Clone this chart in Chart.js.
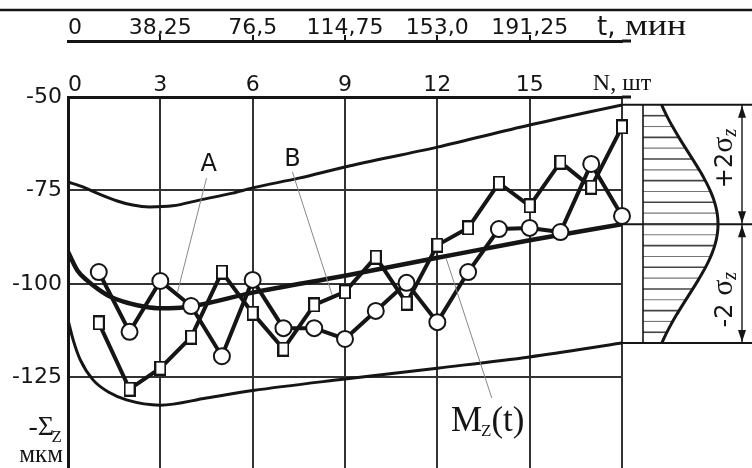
<!DOCTYPE html>
<html><head><meta charset="utf-8">
<script src="https://cdn.jsdelivr.net/npm/chart.js@4/dist/chart.umd.min.js"></script>
<style>html,body{margin:0;padding:0;background:#fff;overflow:hidden}canvas{display:block}</style>
</head><body><canvas id="c" width="752" height="468"></canvas>
<script>
// ---- data ----
const partNumbers = [1,2,3,4,5,6,7,8,9,10,11,12,13,14,15,16,17,18];
const circleValues = [-96.8,-112.8,-99.2,-105.9,-119.3,-98.9,-111.8,-111.8,-114.7,-107.2,-99.7,-110.2,-96.8,-85.3,-85.0,-86.1,-67.9,-81.8];
const squareValues = [-110.4,-128.1,-122.5,-114.2,-96.8,-107.8,-117.4,-105.6,-102.1,-92.8,-105.1,-89.6,-85.0,-73.0,-79.1,-67.4,-74.1,-58.0];
const upperN = [0,0.5,1,1.6,2.1,2.65,3.4,4.3,5.35,6,7.5,9,12,15,18];
const upperValues = [-72.7,-74.1,-75.9,-77.8,-78.9,-79.4,-79.1,-77.5,-75.7,-74.3,-71.7,-68.7,-63.4,-57.5,-52.1];
const meanN = [0,0.3,0.6,1,1.4,2,2.5,3,3.5,4,6,9,12,15,18];
const meanValues = [-91.4,-96.3,-98.9,-101.5,-103.5,-105.2,-106.1,-106.5,-106.4,-106.0,-102.3,-97.8,-93.0,-88.3,-84.0];
const lowerN = [0,0.17,0.4,0.82,1.36,1.9,3,4.5,6,9,12,15,18];
const lowerValues = [-109.6,-115.0,-120.3,-125.7,-129.1,-131.0,-132.4,-130.5,-128.5,-125.4,-122.5,-119.5,-115.8];
const nTicks = [0,3,6,9,12,15,18];
const nTickLabels = ['  0','3','6','9','12','15','N, шт'];
const tTicks = [0,3,6,9,12,15];
const tTickLabels = ['  0','38,25','76,5','114,75','153,0','191,25'];
const yTicks = [-125,-100,-75,-50];

const INK = '#151515';
const GRID = '#333';
const SANS = 'DejaVu Sans';
const SERIF = 'Liberation Serif';

const squareImg = (() => {
  const c = document.createElement('canvas'); c.width = 12; c.height = 15;
  const g = c.getContext('2d');
  g.fillStyle = '#fff'; g.fillRect(1,1,10,13);
  g.strokeStyle = INK; g.lineWidth = 2; g.strokeRect(1,1,10,13);
  return c;
})();

const pts = (xs, ys) => xs.map((x, i) => ({x, y: ys[i]}));

const deco = {
  id: 'deco',
  afterDraw(chart) {
    const ctx = chart.ctx, xs = chart.scales.x, ys = chart.scales.y, x2 = chart.scales.x2;
    const ca = chart.chartArea;
    const px = v => xs.getPixelForValue(v), py = v => ys.getPixelForValue(v);
    ctx.save();
    ctx.strokeStyle = INK; ctx.fillStyle = INK;
    // page frame line at top
    ctx.lineWidth = 2.5;
    ctx.beginPath(); ctx.moveTo(0, 10); ctx.lineTo(chart.width, 10); ctx.stroke();
    // extend the two top axis lines a little past the plot
    ctx.lineWidth = 3;
    ctx.beginPath(); ctx.moveTo(ca.right, x2.bottom); ctx.lineTo(ca.right + 9, x2.bottom); ctx.stroke();
    ctx.beginPath(); ctx.moveTo(ca.right, ca.top); ctx.lineTo(ca.right + 9, ca.top); ctx.stroke();
    // "t, мин"
    ctx.textBaseline = 'alphabetic'; ctx.textAlign = 'left';
    const tBase = x2.bottom - 6;
    ctx.font = '26px ' + SANS;
    ctx.fillText('t,', px(18) - 25, tBase);
    ctx.font = '30px ' + SERIF;
    ctx.save(); ctx.translate(px(18) + 3, tBase); ctx.scale(1.2, 1); ctx.fillText('мин', 0, 0); ctx.restore();
    // -Σz мкм
    ctx.textAlign = 'right';
    ctx.font = '17px ' + SERIF;
    ctx.fillText('Z', ca.left - 6, py(-140.3) + 7);
    ctx.font = '28px ' + SERIF;
    ctx.fillText('-Σ', ca.left - 14, py(-140.3));
    ctx.font = '25px ' + SERIF;
    ctx.fillText('мкм', ca.left - 5, py(-147.6));
    // annotation leaders
    ctx.strokeStyle = '#888'; ctx.lineWidth = 1;
    const leader = (n1, v1, n2, v2) => { ctx.beginPath(); ctx.moveTo(px(n1), py(v1)); ctx.lineTo(px(n2), py(v2)); ctx.stroke(); };
    leader(4.5, -71.7, 3.56, -102.1);
    leader(7.29, -70.0, 8.58, -102.9);
    leader(13.77, -130.5, 12.28, -93.0);
    ctx.fillStyle = INK;
    ctx.textAlign = 'center'; ctx.textBaseline = 'middle';
    ctx.font = '24px ' + SANS;
    ctx.fillText('A', px(4.57), py(-68.2));
    ctx.fillText('B', px(7.29), py(-66.8));
    ctx.textAlign = 'left'; ctx.textBaseline = 'alphabetic';
    ctx.font = '35px ' + SERIF;
    const mx = px(12.44), my = py(-139.3);
    ctx.fillText('M', mx, my);
    let w = ctx.measureText('M').width;
    ctx.font = '17px ' + SERIF;
    ctx.fillText('Z', mx + w - 1, my + 5);
    w += ctx.measureText('Z').width - 1;
    ctx.font = '35px ' + SERIF;
    ctx.fillText('(t)', mx + w, my);

    // right-hand distribution panel
    const yTop = py(upperValues[upperValues.length - 1]);
    const yMid = py(meanValues[meanValues.length - 1]);
    const yBot = py(lowerValues[lowerValues.length - 1]);
    const xR = ca.right, W = chart.width;
    ctx.strokeStyle = INK; ctx.lineWidth = 2;
    [yTop, yMid, yBot].forEach(yy => { ctx.beginPath(); ctx.moveTo(xR, yy); ctx.lineTo(W, yy); ctx.stroke(); });
    const axX = xR + 21, amp = 75, half = (yBot - yTop) / 2, sig = half * 0.6;
    const bell = yy => axX + amp * Math.exp(-0.5 * Math.pow((yy - yMid) / sig, 2));
    const nh = 22;
    for (let i = 1; i < nh; i++) {
      const yy = yTop + (yBot - yTop) * i / nh;
      ctx.strokeStyle = i % 2 ? '#444' : '#777'; ctx.lineWidth = i % 2 ? 1.6 : 1.1;
      ctx.beginPath(); ctx.moveTo(axX, yy); ctx.lineTo(bell(yy), yy); ctx.stroke();
    }
    ctx.strokeStyle = INK; ctx.lineWidth = 1.6;
    ctx.beginPath(); ctx.moveTo(axX, yTop); ctx.lineTo(axX, yBot); ctx.stroke();
    ctx.lineWidth = 3;
    ctx.beginPath();
    for (let yy = yTop; yy <= yBot + 0.1; yy += 1) { const xx = bell(yy); if (yy === yTop) ctx.moveTo(xx, yy); else ctx.lineTo(xx, yy); }
    ctx.stroke();
    // dimension arrows
    const arX = xR + 120;
    ctx.lineWidth = 1.4;
    const arrowHead = (x, y, dir) => { ctx.beginPath(); ctx.moveTo(x, y); ctx.lineTo(x - 4, y - dir * 12); ctx.lineTo(x + 4, y - dir * 12); ctx.closePath(); ctx.fill(); };
    [[yTop, yMid], [yMid, yBot]].forEach(([a, b]) => {
      ctx.beginPath(); ctx.moveTo(arX, a); ctx.lineTo(arX, b); ctx.stroke();
      arrowHead(arX, a + 1, -1); arrowHead(arX, b - 1, 1);
    });
    // rotated labels
    const rotLabel = (cx, cy, pieces) => {
      ctx.save(); ctx.translate(cx, cy); ctx.rotate(-Math.PI / 2);
      ctx.textAlign = 'left'; ctx.textBaseline = 'alphabetic';
      let tot = 0;
      pieces.forEach(p => { ctx.font = p.f; tot += ctx.measureText(p.t).width; });
      let cur = -tot / 2;
      pieces.forEach(p => { ctx.font = p.f; ctx.fillText(p.t, cur, p.dy || 0); cur += ctx.measureText(p.t).width; });
      ctx.restore();
    };
    const tx = xR + 110;
    rotLabel(tx, (yTop + yMid) / 2 - 6, [
      {t: '+2', f: '24px ' + SANS}, {t: 'σ', f: '30px ' + SERIF}, {t: 'z', f: 'italic 20px ' + SERIF, dy: 4}]);
    rotLabel(tx, (yMid + yBot) / 2 + 16, [
      {t: '-2 ', f: '24px ' + SANS}, {t: 'σ', f: '30px ' + SERIF}, {t: 'z', f: 'italic 20px ' + SERIF, dy: 4}]);
    ctx.restore();
  }
};

new Chart(document.getElementById('c'), {
  type: 'scatter',
  data: {
    datasets: [
      {data: pts(partNumbers, circleValues), showLine: true, borderColor: INK, borderWidth: 4,
       pointStyle: 'circle', pointRadius: 8, pointBorderWidth: 2, pointBackgroundColor: '#fff', pointBorderColor: INK,
       clip: false, order: 0},
      {data: pts(partNumbers, squareValues), showLine: true, borderColor: INK, borderWidth: 4,
       pointStyle: squareImg, pointRadius: 6, clip: false, order: 1},
      {data: pts(meanN, meanValues), showLine: true, borderColor: INK, borderWidth: 4.5, pointRadius: 0,
       cubicInterpolationMode: 'monotone', order: 2},
      {data: pts(upperN, upperValues), showLine: true, borderColor: INK, borderWidth: 3, pointRadius: 0,
       cubicInterpolationMode: 'monotone', order: 3},
      {data: pts(lowerN, lowerValues), showLine: true, borderColor: INK, borderWidth: 3, pointRadius: 0,
       cubicInterpolationMode: 'monotone', order: 3}
    ]
  },
  options: {
    responsive: false, devicePixelRatio: 1, animation: false,
    layout: {autoPadding: false, padding: {left: 0, right: 130, top: 0, bottom: 0}},
    plugins: {legend: {display: false}, tooltip: {enabled: false}},
    scales: {
      x: {
        type: 'linear', position: 'top', min: 0, max: 18,
        afterBuildTicks: s => { s.ticks = nTicks.map(v => ({value: v})); },
        afterFit: s => { s.height = 56; },
        grid: {color: GRID, lineWidth: 2, drawTicks: false},
        border: {color: INK, width: 3},
        ticks: {
          autoSkip: false, maxRotation: 0, padding: -1, color: INK,
          font: c => (c.tick && c.tick.value === 18) ? {family: SERIF, size: 24} : {family: SANS, size: 22},
          callback: (v, i) => nTickLabels[i]
        }
      },
      x2: {
        type: 'linear', position: 'top', min: 0, max: 18,
        afterBuildTicks: s => { s.ticks = tTicks.map(v => ({value: v})); },
        afterFit: s => { s.height = 41; },
        grid: {drawOnChartArea: false, tickLength: 6, lineWidth: 2,
               tickColor: c => (c.tick && c.tick.value === 0) ? 'rgba(0,0,0,0)' : INK},
        border: {color: INK, width: 3},
        ticks: {autoSkip: false, maxRotation: 0, padding: -6, color: INK,
                font: {family: SANS, size: 22}, callback: (v, i) => tTickLabels[i]}
      },
      y: {
        type: 'linear', min: -149.2, max: -50,
        afterBuildTicks: s => { s.ticks = yTicks.map(v => ({value: v})); },
        afterFit: s => { s.width = 68; s.paddingTop = 0; s.paddingBottom = 0; },
        grid: {color: GRID, lineWidth: 2, drawTicks: false},
        border: {color: INK, width: 3},
        ticks: {padding: 6, color: INK, font: {family: SANS, size: 22}}
      }
    }
  },
  plugins: [deco]
});
</script>
</body></html>
